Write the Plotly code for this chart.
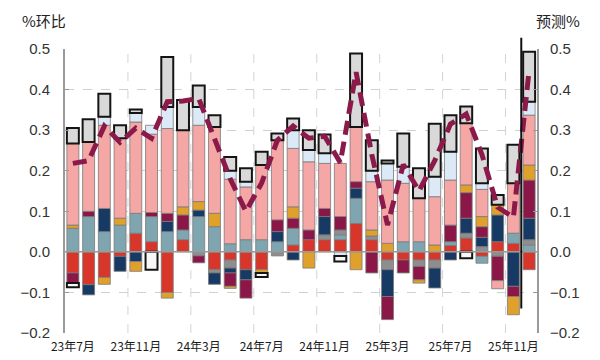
import plotly.graph_objects as go

months = ["23年7月","23年8月","23年9月","23年10月","23年11月","23年12月",
          "24年1月","24年2月","24年3月","24年4月","24年5月","24年6月",
          "24年7月","24年8月","24年9月","24年10月","24年11月","24年12月",
          "25年1月","25年2月","25年3月","25年4月","25年5月","25年6月",
          "25年7月","25年8月","25年9月","25年10月","25年11月","25年12月"]
tick_labels = months[::4]

red = [-0.052,-0.081,-0.063,-0.011,0.046, 0.025,-0.10,0.03,0,-0.044,
       -0.02,-0.044,-0.044,0,0.017, 0.03,0.03,0.03,0.07,0.03,
       -0.02,-0.02,-0.02,-0.02,0.016, 0.034,-0.011,0.025,0.021,-0.044]
teal = [0.058,0.087,0.05,0.066,0.049, 0.062,0.05,0.024,0.087,0.062,
        0.02,0.03,0.03,0.025,0.041, 0,0,0.012,0.062,0,
        0,0.025,0.025,0,0.009, 0,-0.017,0,0.025,0.017]
gray = [0,0,0,0,0, 0,0,0,-0.01,-0.008,
        -0.02,0,0,-0.01,0, 0,0.012,0.012,0,0.009,
        -0.024,0,-0.016,-0.02,0, 0.012,0.013,-0.011,0,0.013]
navy = [0,-0.025,0.057,-0.037,-0.024, 0,0.025,0,0.016,-0.028,
        -0.012,-0.025,0,0.025,-0.02, 0,0.045,0,0.025,0,
        -0.066,0,0,-0.049,-0.02, 0.037,0.023,0.066,-0.085,0.053]
maroon = [-0.025,0.013,0,0,0, 0.01,0.02,0.037,-0.017,0,
          -0.033,-0.045,0,0.029,0.025, 0.024,0.02,0.033,0.016,-0.052,
          -0.057,-0.032,-0.033,0,0.041, 0.063,0.026,-0.06,-0.025,0.094]
gold = [0.008,0,-0.017,0.017,-0.024, 0,-0.014,0.02,0.021,0.033,
        -0.005,0,-0.008,0,0.028, -0.04,0,0,-0.044,0.015,
        0.021,0,-0.008,0.017,0, 0.019,0.025,0.025,-0.045,0.037]
pink = [0.201,0.171,0.205,0.197,0.225, 0.193,0.209,0.189,0.188,0.213,
        0.159,0.13,0.184,0.196,0.144, 0.168,0.111,0.131,0.135,0.119,
        0.156,0.144,0.107,0.119,0.111, 0.152,0.067,-0.02,0.123,0.123]
lblue = [0,0,0.021,0,0.022, 0.022,0.053,0,0.045,0,
         0.021,0.013,0,0,0.045, 0.029,0.025,-0.01,0,0.027,
         0.041,0.041,0,0.049,0.07, 0,0.015,0,0,0.033]
gbox = [0.038,0.056,0.057,0.032,0.009, 0,0.123,0.074,0.053,0.029,
        0.034,0.033,0.033,0.017,0.029, 0.049,0.046,0,0.181,0.075,
        0.007,0.082,0.074,0.131,0.09, 0.041,0.086,0.024,0.095,0.123]
wbox = [-0.01,0,0,0,0, -0.044,0,0,0,0,
        0,0,-0.01,0,0, 0,0,-0.014,0,0,
        0,0,0,0,0, -0.016,0,0,0,0]
line_vals = [0.218,0.225,0.31,0.27,0.305, 0.28,0.37,0.372,0.378,0.28,
             0.18,0.10,0.17,0.275,0.31, 0.28,0.285,0.22,0.443,0.24,
             0.066,0.215,0.15,0.225,0.315, 0.34,0.24,0.11,0.085,0.448]

series = [
    (red, "#d8352b", "#7a7a7a", 0.8),
    (teal, "#7fa6b0", "#7a7a7a", 0.8),
    (gray, "#8e8e8e", "#7a7a7a", 0.8),
    (navy, "#173a64", "#7a7a7a", 0.8),
    (maroon, "#8b1748", "#7a7a7a", 0.8),
    (gold, "#e0a12c", "#7a7a7a", 0.8),
    (pink, "#f4a7a4", "#7a7a7a", 0.8),
    (lblue, "#dce9f6", "#7a7a7a", 0.8),
    (gbox, "#d9d9d9", "#141414", 2),
    (wbox, "#f7f7f7", "#141414", 2),
]

fig = go.Figure()
for vals, col, lc, lw in series:
    fig.add_trace(go.Bar(x=months, y=[v if v != 0 else None for v in vals],
                         marker=dict(color=col, line=dict(color=lc, width=lw)),
                         width=0.76, showlegend=False, hoverinfo="skip"))

fig.add_trace(go.Scatter(x=months, y=line_vals, mode="lines",
                         line=dict(color="#8b1a4b", width=5, dash="14px,7px"),
                         showlegend=False, yaxis="y2"))

shapes = []
for k in range(7):
    xv = 3.5 + 4 * k
    shapes.append(dict(type="line", xref="x", yref="y", x0=xv, x1=xv, y0=-0.2, y1=0.5,
                       line=dict(color="#d4d4d4", width=1, dash="dash"), layer="below"))
shapes.append(dict(type="line", xref="paper", yref="y", x0=0, x1=1, y0=0, y1=0,
                   line=dict(color="#9a9a9a", width=1.5), layer="above"))
shapes.append(dict(type="line", xref="x", yref="paper", x0=28.5, x1=28.5, y0=0.086, y1=1.04,
                   line=dict(color="#111111", width=2), layer="above"))

tickfont = dict(family="Liberation Sans, Arial, sans-serif", size=15, color="#333333")
yax = dict(range=[-0.2, 0.5], dtick=0.1, tick0=0, tickformat=".1f", showgrid=True,
           gridcolor="#d0d0d0", griddash="dash", gridwidth=1,
           zeroline=False, automargin=False,
           showline=True, linecolor="#9a9a9a", linewidth=2,
           ticks="inside", ticklen=4, tickcolor="#9a9a9a", tickfont=tickfont)

fig.update_layout(
    width=592, height=352,
    margin=dict(l=57, r=63, t=41, b=27),
    paper_bgcolor="white", plot_bgcolor="white",
    barmode="relative", bargap=0.24,
    xaxis=dict(type="category", tickvals=tick_labels, ticktext=tick_labels,
               showgrid=False, showline=False, ticks="", range=[-0.5, 29.5],
               ticklabelstandoff=5, automargin=False,
               tickfont=dict(family="Noto Sans CJK SC", size=12, color="#1a1a1a")),
    yaxis=dict(**yax, ticklabelstandoff=10),
    yaxis2=dict(**yax, overlaying="y", side="right", ticklabelstandoff=8),
    shapes=shapes,
    annotations=[
        dict(text="%环比", xref="paper", yref="paper", x=0, y=1.10, xanchor="right",
             yanchor="middle", xshift=3, showarrow=False,
             font=dict(family="Noto Sans CJK SC", size=15, color="#222222")),
        dict(text="预测%", xref="paper", yref="paper", x=1, y=1.10, xanchor="left",
             yanchor="middle", xshift=-3, showarrow=False,
             font=dict(family="Noto Sans CJK SC", size=15, color="#222222")),
    ],
)

fig.write_html("out.html")
